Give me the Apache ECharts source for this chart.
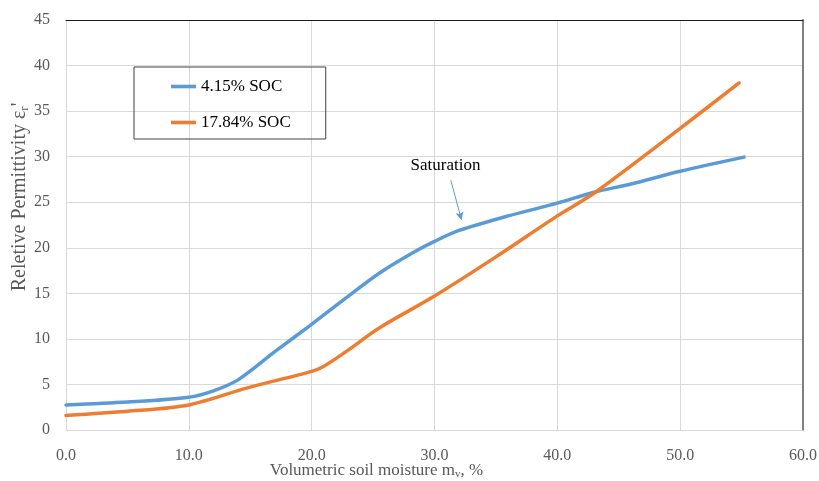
<!DOCTYPE html>
<html>
<head>
<meta charset="utf-8">
<script src="https://cdn.jsdelivr.net/npm/echarts@6/dist/echarts.min.js"></script>
<style>html,body{margin:0;padding:0;background:#fff}#c{width:819px;height:481px}</style>
</head>
<body>
<div id="c"></div>
<script>
var seriesNames = ['4.15% SOC', '17.84% SOC'];
var blueX = [0, 5, 10, 12, 14, 17, 20, 22.8, 25.5, 28.3, 30, 32, 36, 40, 43, 46, 50, 55.2];
var blueY = [2.75, 3.07, 3.6, 4.3, 5.5, 8.6, 11.6, 14.5, 17.2, 19.5, 20.7, 21.9, 23.5, 24.9, 26.1, 27.0, 28.4, 29.95];
var orangeX = [0, 5, 10, 14.7, 20, 21, 22.8, 25.5, 30, 35, 40, 43.1, 50, 54.8];
var orangeY = [1.6, 2.05, 2.75, 4.6, 6.44, 7.0, 8.6, 11.2, 14.7, 19.0, 23.5, 26.1, 33.1, 38.1];
var xTicks = [0, 10, 20, 30, 40, 50, 60];
var yTicks = [0, 5, 10, 15, 20, 25, 30, 35, 40, 45];

function pairs(xs, ys) { return xs.map(function (x, i) { return [x, ys[i]]; }); }
var FONT = "'Liberation Serif', 'DejaVu Serif', serif";
var LEG_ICON = 'path://M0,0 M0,14 M0,5.2 L25,5.2 L25,8.8 L0,8.8 Z';
var chart = echarts.init(document.getElementById('c'));
chart.setOption({
  animation: false,
  backgroundColor: '#fff',
  textStyle: { fontFamily: FONT },
  grid: { left: 66, right: 16, top: 20, bottom: 51, containLabel: false, outerBoundsMode: 'none' },
  legend: {
    orient: 'vertical', left: 134, top: 67,
    padding: [11, 35, 8, 37],
    itemWidth: 25, itemHeight: 14, itemGap: 19,
    borderColor: '#404040', borderWidth: 1,
    textStyle: { fontFamily: FONT, fontSize: 17, color: '#000' },
    data: [
      { name: seriesNames[0], icon: LEG_ICON, itemStyle: { color: '#5b9bd5' } },
      { name: seriesNames[1], icon: LEG_ICON, itemStyle: { color: '#ed7d31' } }
    ]
  },
  xAxis: [{
    type: 'value', min: xTicks[0], max: xTicks[xTicks.length - 1], interval: 10,
    name: 'Volumetric soil moisture m{sub|v}, %', nameLocation: 'middle', nameGap: 31, nameMoveOverlap: false,
    nameTextStyle: { fontFamily: FONT, fontSize: 17, color: '#595959', padding: [0, 116, 0, 0],
      rich: { sub: { fontFamily: FONT, fontSize: 11, color: '#595959', padding: [8, 0, 0, 0] } } },
    axisLine: { show: true, lineStyle: { color: '#d9d9d9', width: 1 } },
    axisTick: { show: false },
    axisLabel: { fontFamily: FONT, fontSize: 16, color: '#595959', margin: 18,
      formatter: function (v) { return v.toFixed(1); } },
    splitLine: { show: true, lineStyle: { color: '#d9d9d9', width: 1 } }
  }, {
    type: 'value', position: 'top', min: xTicks[0], max: xTicks[xTicks.length - 1], interval: 10,
    axisLine: { show: true, onZero: false, lineStyle: { color: '#1a1a1a', width: 1 } },
    axisTick: { show: false }, axisLabel: { show: false }, splitLine: { show: false }
  }],
  yAxis: [{
    type: 'value', min: yTicks[0], max: yTicks[yTicks.length - 1], interval: 5,
    name: "Reletive Permittivity ε{sub|r}'", nameLocation: 'middle', nameGap: 35, nameMoveOverlap: false,
    nameTextStyle: { fontFamily: FONT, fontSize: 20, color: '#595959', padding: [0, 0, 0, 56],
      rich: { sub: { fontFamily: FONT, fontSize: 13, color: '#595959', padding: [10, 0, 0, 0] } } },
    axisLine: { show: true, lineStyle: { color: '#d9d9d9', width: 1 } },
    axisTick: { show: false },
    axisLabel: { fontFamily: FONT, fontSize: 16, color: '#595959', margin: 16 },
    splitLine: { show: true, lineStyle: { color: '#d9d9d9', width: 1 } }
  }, {
    type: 'value', position: 'right', min: yTicks[0], max: yTicks[yTicks.length - 1], interval: 5,
    axisLine: { show: true, onZero: false, lineStyle: { color: '#808080', width: 2 } },
    axisTick: { show: false }, axisLabel: { show: false }, splitLine: { show: false }
  }],
  series: [{
    name: seriesNames[0], type: 'line', smooth: 0.3, symbol: 'none', showSymbol: false,
    data: pairs(blueX, blueY),
    itemStyle: { color: '#5b9bd5' },
    lineStyle: { color: '#5b9bd5', width: 3.5, cap: 'round' },
    markLine: {
      silent: true, symbol: ['none', 'arrow'], symbolSize: [6, 8],
      label: { show: false },
      lineStyle: { color: '#5b9bd5', width: 1, type: 'solid' },
      data: [[{ coord: [31.33, 27.4] }, { coord: [32.2, 23.06] }]]
    },
    markPoint: {
      silent: true, symbol: 'rect', symbolSize: 1, itemStyle: { color: 'rgba(0,0,0,0)' },
      label: { show: true, position: 'inside', formatter: 'Saturation', fontFamily: FONT, fontSize: 17, color: '#000' },
      data: [{ coord: [30.9, 29.0] }]
    }
  }, {
    name: seriesNames[1], type: 'line', smooth: 0.3, symbol: 'none', showSymbol: false,
    data: pairs(orangeX, orangeY),
    itemStyle: { color: '#ed7d31' },
    lineStyle: { color: '#ed7d31', width: 3.5, cap: 'round' }
  }]
});
</script>
</body>
</html>
